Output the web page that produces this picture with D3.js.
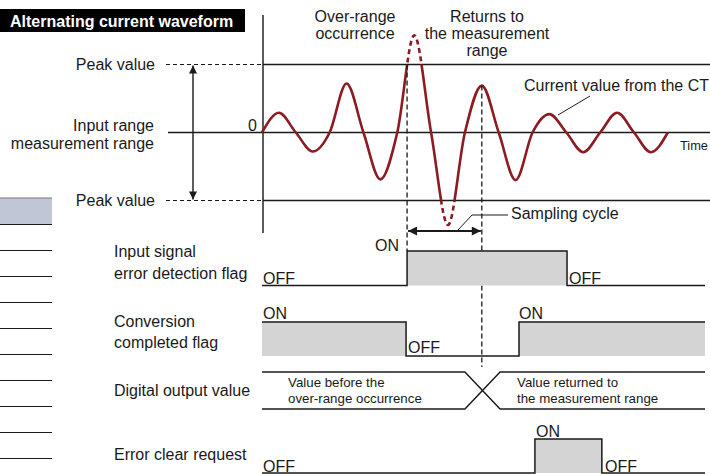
<!DOCTYPE html>
<html><head><meta charset="utf-8">
<script src="https://cdn.jsdelivr.net/npm/d3@7/dist/d3.min.js"></script>
<style>body{margin:0;background:#fff}svg{display:block;font-family:"Liberation Sans",Arial,Helvetica,sans-serif}</style>
</head><body>
<script>
// ---- data ----
const title = "Alternating current waveform";
// peak amplitude of each half-cycle of the CT current, in units of the range peak value
const halfCycleAmplitudes = [0.29, -0.28, 0.72, -0.69, 1.43, -1.36, 0.69, -0.70, 0.27, -0.29, 0.29, -0.29];
// event times (in half-cycles of the waveform)
const tOverRange = 4.29, tReturn = 6.5, tEnd = 13.1;
const inputErrorFlag = [[0, 0], [4.29, 1], [9.02, 0], [13.1, 0]];
const conversionFlag = [[0, 1], [4.26, 0], [7.6, 1], [13.1, 1]];
const errorClearRequest = [[0, 0], [8.07, 1], [10.05, 0], [13.1, 0]];
const digitalChange = [6.0, 7.04];
const digitalTexts = [["Value before the", "over-range occurrence"], ["Value returned to", "the measurement range"]];
const signalLabels = [["Input signal", "error detection flag"], ["Conversion", "completed flag"], ["Digital output value"], ["Error clear request"]];
const rangeLabels = ["Input range", "measurement range"];

// ---- setup ----
const W = 710, H = 474;
const svg = d3.select("body").append("svg").attr("width", W).attr("height", H);
const defs = svg.append("defs");
const x = d3.scaleLinear().domain([0, tEnd]).range([262, 705]);
const yW = d3.scaleLinear().domain([-1, 1]).range([200.5, 64.5]);
const FS = 16;
const ink = "#1a1a1a";
const waveColor = "#8b1c21";

defs.append("marker").attr("id", "ah").attr("viewBox", "0 0 10 10").attr("refX", 10).attr("refY", 5)
  .attr("markerWidth", 12).attr("markerHeight", 8).attr("markerUnits", "userSpaceOnUse").attr("orient", "auto-start-reverse")
  .append("path").attr("d", "M0,0L10,5L0,10Z").attr("fill", ink);
defs.append("marker").attr("id", "ah2").attr("viewBox", "0 0 10 10").attr("refX", 10).attr("refY", 5)
  .attr("markerWidth", 15).attr("markerHeight", 9).attr("markerUnits", "userSpaceOnUse").attr("orient", "auto-start-reverse")
  .append("path").attr("d", "M0,0L10,5L0,10Z").attr("fill", ink);

// ---- left decorative table fragment ----
svg.append("rect").attr("x", 0).attr("y", 198).attr("width", 52).attr("height", 26).attr("fill", "#c1c6d7");
svg.append("line").attr("x1", 0).attr("x2", 52).attr("y1", 198).attr("y2", 198).attr("stroke", "#777").attr("stroke-width", 1.2);
svg.selectAll(".tl").data(d3.range(10)).join("line").attr("x1", 0).attr("x2", 52)
  .attr("y1", d => 224.5 + d * 26).attr("y2", d => 224.5 + d * 26).attr("stroke", ink).attr("stroke-width", 1);

// ---- title ----
svg.append("rect").attr("x", 0).attr("y", 9).attr("width", 245).attr("height", 23).attr("fill", "#000");
svg.append("text").attr("x", 10).attr("y", 26.5).attr("fill", "#fff").attr("font-weight", "bold").attr("font-size", 16).text(title);

// ---- waveform reference lines ----
svg.append("line").attr("x1", 263).attr("x2", 263).attr("y1", 15).attr("y2", 233).attr("stroke", "#333").attr("stroke-width", 1.6);
svg.append("line").attr("x1", 168).attr("x2", W).attr("y1", yW(0)).attr("y2", yW(0)).attr("stroke", ink).attr("stroke-width", 1.3);
[1, -1].forEach(v => {
  svg.append("line").attr("x1", 263).attr("x2", W).attr("y1", yW(v)).attr("y2", yW(v)).attr("stroke", ink).attr("stroke-width", 1.3);
  svg.append("line").attr("x1", 166).attr("x2", 263).attr("y1", yW(v)).attr("y2", yW(v)).attr("stroke", ink).attr("stroke-width", 1.2).attr("stroke-dasharray", "4,3");
  svg.append("text").attr("x", 155).attr("y", yW(v) + 5).attr("text-anchor", "end").attr("font-size", FS).attr("fill", ink).text("Peak value");
});
svg.append("line").attr("x1", 193).attr("x2", 193).attr("y1", yW(1) + 1).attr("y2", yW(-1) - 1)
  .attr("stroke", ink).attr("stroke-width", 1.4).attr("marker-start", "url(#ah)").attr("marker-end", "url(#ah)");
rangeLabels.forEach((t, i) => svg.append("text").attr("x", 154).attr("y", 131 + i * 18).attr("text-anchor", "end").attr("font-size", FS).attr("fill", ink).text(t));
svg.append("text").attr("x", 257).attr("y", 131).attr("text-anchor", "end").attr("font-size", FS).attr("fill", ink).text("0");
svg.append("text").attr("x", 680).attr("y", 150).attr("font-size", 12.8).attr("fill", ink).text("Time");

// ---- waveform ----
const pts = [];
halfCycleAmplitudes.forEach((a, i) => { pts.push([i, 0]); pts.push([i + 0.5, a]); });
pts.push([halfCycleAmplitudes.length, 0]);
const waveLine = d3.line().x(d => x(d[0])).y(d => yW(d[1])).curve(d3.curveMonotoneX);
defs.append("clipPath").attr("id", "inside").append("rect").attr("x", 0).attr("y", yW(1)).attr("width", W).attr("height", yW(-1) - yW(1));
const outside = defs.append("clipPath").attr("id", "outside");
outside.append("rect").attr("x", 0).attr("y", 0).attr("width", W).attr("height", yW(1));
outside.append("rect").attr("x", 0).attr("y", yW(-1)).attr("width", W).attr("height", 100);
svg.append("path").attr("d", waveLine(pts)).attr("fill", "none").attr("stroke", waveColor).attr("stroke-width", 2.6).attr("clip-path", "url(#inside)");
svg.append("path").attr("d", waveLine(pts)).attr("fill", "none").attr("stroke", waveColor).attr("stroke-width", 2.6)
  .attr("stroke-dasharray", "5,3.5").attr("clip-path", "url(#outside)");

// annotations on waveform
["Over-range", "occurrence"].forEach((t, i) => svg.append("text").attr("x", 355).attr("y", 21.5 + i * 17).attr("text-anchor", "middle").attr("font-size", FS).attr("fill", ink).text(t));
["Returns to", "the measurement", "range"].forEach((t, i) => svg.append("text").attr("x", 487).attr("y", 21.5 + i * 17.3).attr("text-anchor", "middle").attr("font-size", FS).attr("fill", ink).text(t));
svg.append("text").attr("x", 524).attr("y", 91).attr("font-size", FS).attr("fill", ink).text("Current value from the CT");
svg.append("line").attr("x1", 590).attr("y1", 96).attr("x2", 558).attr("y2", 115).attr("stroke", ink).attr("stroke-width", 1);
svg.append("text").attr("x", 511).attr("y", 219).attr("font-size", FS).attr("fill", ink).text("Sampling cycle");
svg.append("path").attr("d", "M508,215H472L458,230").attr("fill", "none").attr("stroke", ink).attr("stroke-width", 1);

// dashed guides
svg.append("line").attr("x1", x(tOverRange)).attr("x2", x(tOverRange)).attr("y1", yW(1)).attr("y2", 251)
  .attr("stroke", ink).attr("stroke-width", 1.3).attr("stroke-dasharray", "5,3");
svg.append("line").attr("x1", x(tReturn)).attr("x2", x(tReturn)).attr("y1", yW(halfCycleAmplitudes[6])).attr("y2", 367)
  .attr("stroke", ink).attr("stroke-width", 1.3).attr("stroke-dasharray", "5,3");
svg.append("line").attr("x1", x(tOverRange) + 1).attr("x2", x(tReturn) - 1).attr("y1", 231).attr("y2", 231)
  .attr("stroke", ink).attr("stroke-width", 2).attr("marker-start", "url(#ah2)").attr("marker-end", "url(#ah2)");

// ---- signal rows ----
function stepRow(data, yOn, yOff) {
  const yS = d3.scaleLinear().domain([0, 1]).range([yOff, yOn]);
  const area = d3.area().x(d => x(d[0])).y0(yOff).y1(d => yS(d[1])).curve(d3.curveStepAfter);
  const line = d3.line().x(d => x(d[0])).y(d => yS(d[1])).curve(d3.curveStepAfter);
  svg.append("path").attr("d", area(data)).attr("fill", "#d4d4d4");
  svg.append("path").attr("d", line(data)).attr("fill", "none").attr("stroke", ink).attr("stroke-width", 1.5);
}
function lbl(t, xx, yy, anchor) {
  svg.append("text").attr("x", xx).attr("y", yy).attr("font-size", FS).attr("fill", ink).attr("text-anchor", anchor || "start").text(t);
}
// input error flag
stepRow(inputErrorFlag, 251, 285.5);
lbl("OFF", 263, 283.5); lbl("ON", 399, 251, "end"); lbl("OFF", 569, 283.5);
// conversion completed
stepRow(conversionFlag, 322, 356);
lbl("ON", 263, 319); lbl("OFF", 408, 353); lbl("ON", 519, 319);
// digital output
{
  const yT = 372, yB = 409, a = x(digitalChange[0]), b = x(digitalChange[1]);
  svg.append("path").attr("d", `M${x(0)},${yT}H${a}L${b},${yB}H${x(tEnd)}M${x(0)},${yB}H${a}L${b},${yT}H${x(tEnd)}`)
    .attr("fill", "none").attr("stroke", ink).attr("stroke-width", 1.4);
  [[288, digitalTexts[0]], [517, digitalTexts[1]]].forEach(([xx, ls]) => ls.forEach((t, i) =>
    svg.append("text").attr("x", xx).attr("y", 387 + i * 16).attr("font-size", 13.3).attr("fill", ink).text(t)));
}
// error clear
stepRow(errorClearRequest, 439, 473);
lbl("OFF", 263, 471.5); lbl("ON", 536, 436.5); lbl("OFF", 605, 471.5);

// row labels
const labelY = [[257, 278.5], [327, 348], [396], [460]];
signalLabels.forEach((ls, r) => ls.forEach((t, i) => lbl(t, 114, labelY[r][i])));
</script>
</body></html>
